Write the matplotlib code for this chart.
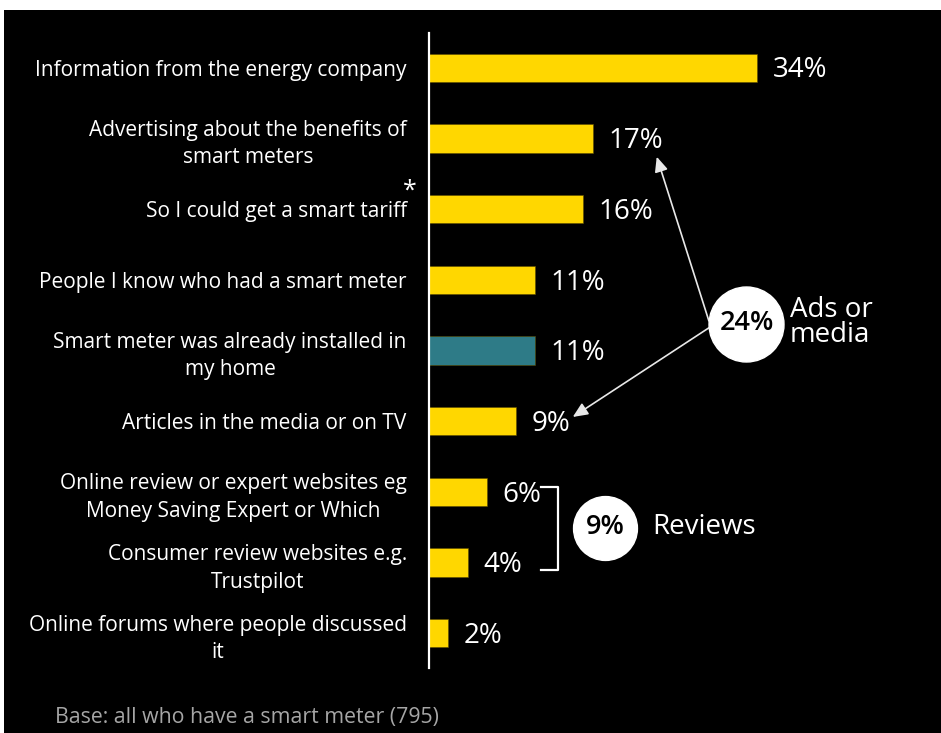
import matplotlib.pyplot as plt
from matplotlib.patches import Rectangle

plt.rcParams['font.family'] = ['Open Sans', 'DejaVu Sans']

# survey answers: reasons for getting a smart meter
categories = [
    'Information from the energy company',
    'Advertising about the benefits of\nsmart meters',
    'So I could get a smart tariff',
    'People I know who had a smart meter',
    'Smart meter was already installed in\nmy home',
    'Articles in the media or on TV',
    'Online review or expert websites eg\nMoney Saving Expert or Which',
    'Consumer review websites e.g.\nTrustpilot',
    'Online forums where people discussed\nit',
]
values = [34, 17, 16, 11, 11, 9, 6, 4, 2]
highlight = 4  # already installed

ads_total = 24
ads_rows = [1, 5]
reviews_total = 9
reviews_rows = [6, 7]
base_note = 'Base: all who have a smart meter (795)'

yellow = '#FFD700'
teal = '#2E7B87'

fig = plt.figure(figsize=(9.41, 7.33), dpi=100)
fig.patch.set_facecolor('white')
bg = Rectangle((4 / 941, 0), 1, (733 - 10) / 733, transform=fig.transFigure,
               facecolor='black', edgecolor='none', zorder=-10)
fig.add_artist(bg)

ax = fig.add_axes([429 / 941, 65 / 733, 512 / 941, 635 / 733])
ax.set_facecolor('none')

cols = [teal if i == highlight else yellow for i in range(len(values))]
ypos = list(range(len(values)))
ax.barh(ypos, values, height=0.4, color=cols, edgecolor='#5a4a00', linewidth=0.4, zorder=2)

ax.set_xlim(0, 512 / 9.65)
ax.set_ylim(8.49, -0.49)

for s in ['top', 'right', 'bottom']:
    ax.spines[s].set_visible(False)
ax.spines['left'].set_color('white')
ax.spines['left'].set_linewidth(1.6)
ax.set_xticks([])
ax.set_yticks(ypos)
ax.set_yticklabels(categories, color='white', fontsize=15, linespacing=1.4,
                   multialignment='center')
ax.tick_params(axis='y', length=0, pad=16)

# value labels
for y, v in zip(ypos, values):
    ax.annotate(f'{v}%', (v, y), xytext=(11, -2), textcoords='offset points',
                va='center', ha='left', color='white', fontsize=20)

ax.text(-1.95, 1.74, '*', color='white', fontsize=18, ha='center', va='center')

# ads or media callout
cx, cy = 32.9, 3.63
ax.scatter([cx], [cy], s=54 ** 2, color='white', zorder=5, clip_on=False)
ax.text(cx, cy - 0.02, f'{ads_total}%', color='black', fontsize=19.5, fontweight='semibold',
        ha='center', va='center', zorder=6)
ax.text(cx + 4.5, cy - 0.03, 'Ads or\nmedia', color='white', fontsize=20, ha='left', va='center',
        linespacing=0.85)
arrow = dict(arrowstyle='-|>,head_length=0.9,head_width=0.4', color='#e8e8e8', lw=1.2,
             shrinkA=0, shrinkB=0)
ax.annotate('', xy=(values[ads_rows[0]] + 6.6, ads_rows[0] + 0.26), xytext=(29.0, 3.58),
            arrowprops=arrow, zorder=4)
ax.annotate('', xy=(values[ads_rows[1]] + 5.9, ads_rows[1] - 0.06), xytext=(29.0, 3.68),
            arrowprops=arrow, zorder=4)

# reviews bracket and callout
bx0, bx1 = 11.6, 13.4
ax.plot([bx0, bx1, bx1, bx0], [reviews_rows[0] - 0.07, reviews_rows[0] - 0.07,
                               reviews_rows[1] + 0.1, reviews_rows[1] + 0.1],
        color='white', lw=1.6, zorder=4)
rx, ry = 18.24, 6.51
ax.scatter([rx], [ry], s=46 ** 2, color='white', zorder=5, clip_on=False)
ax.text(rx, ry - 0.02, f'{reviews_total}%', color='black', fontsize=19.5, fontweight='semibold',
        ha='center', va='center', zorder=6)
ax.text(23.1, ry - 0.02, 'Reviews', color='white', fontsize=20, ha='left', va='center')

fig.text(55 / 941, (733 - 718) / 733, base_note, color='#a6a6a6', fontsize=15.3,
         ha='left', va='center')

fig.savefig('out.png', dpi=100, facecolor=fig.get_facecolor())
